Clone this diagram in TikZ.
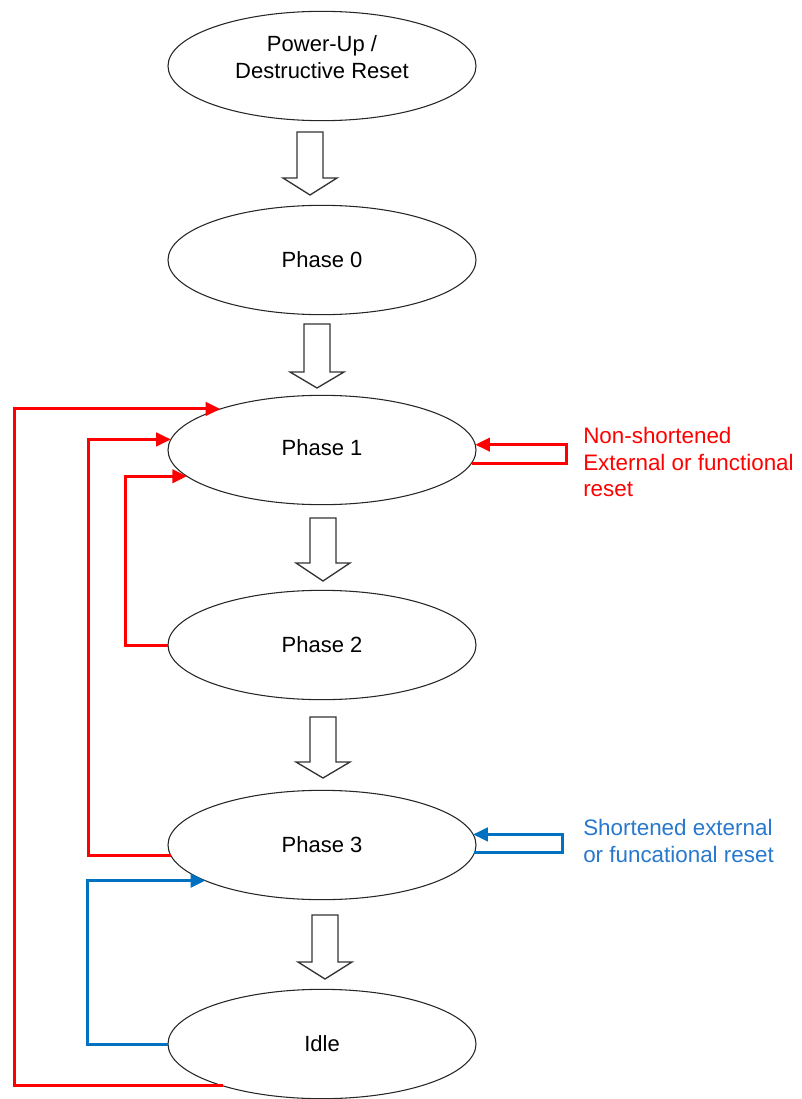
\documentclass[tikz,border=0pt]{standalone}
\usepackage{fontspec}
\setmainfont{Liberation Sans}
\usetikzlibrary{arrows.meta,shapes.geometric}
\definecolor{rl}{RGB}{255,0,0}
\definecolor{bl}{RGB}{0,112,192}
\definecolor{btext}{RGB}{40,120,205}
\newcommand\blockarr[4]{%
  \draw[barrow] (#1-13,#2) -- (#1+13,#2) -- (#1+13,#3) -- (#1+27,#3) -- (#1,#4) -- (#1-27,#3) -- (#1-13,#3) -- cycle;}
\begin{document}
\begin{tikzpicture}[x=0.75pt,y=-0.75pt,
  state/.style={ellipse,draw=black!85,line width=0.8pt,minimum width=231pt,minimum height=82pt,inner sep=0pt,outer sep=0pt,align=center,font=\fontsize{16.5}{20.25}\selectfont},
  redline/.style={draw=rl,line width=2.25pt},
  blueline/.style={draw=bl,line width=2.25pt},
  tip/.style={-{Triangle[length=11pt,width=10pt]}},
  barrow/.style={draw=black!80,line width=1pt,fill=white,line join=miter},
  lab/.style={anchor=west,inner sep=0pt,align=left,font=\fontsize{16.8}{20}\selectfont}]
\useasboundingbox (0,0) rectangle (802,1099);

\node[state] (pu) at (322,66) {};
\node[align=center,inner sep=0pt,font=\fontsize{16.5}{20.25}\selectfont] (putext) at (322,57) {Power-Up /\\Destructive Reset};
\node[state] (p0) at (322,260) {Phase 0};
\node[state] (p1) at (322,450) {\raisebox{3pt}{Phase 1}};
\node[state] (p2) at (322,645) {Phase 2};
\node[state] (p3) at (322,845) {Phase 3};
\node[state] (idle) at (322,1044) {Idle};

\blockarr{310}{132}{178}{195}
\blockarr{317}{324}{372}{388}
\blockarr{323}{518}{563}{581}
\blockarr{323}{717}{762}{778}
\blockarr{325}{915}{962}{979}

\coordinate (xo) at (14,0);
\coordinate (xm) at (88,0);
\coordinate (xi) at (125,0);
\coordinate (xb) at (87,0);
\coordinate (xr) at (566,0);
\coordinate (xbr) at (562,0);

\draw[redline,tip] (idle.203.7) -- (idle.203.7 -| xo) |- (p1.158.6);
\draw[redline,tip] (p3.184.7) -- (p3.184.7 -| xm) |- (p1.176.6);
\draw[redline,tip] (p2.west) -- (p2.west -| xi) |- (p1.191.2);
\draw[blueline,tip] (idle.west) -- (idle.west -| xb) |- (p3.197.3);
\draw[redline,tip] (p1.355.5) -- (p1.355.5 -| xr) |- (p1.2.6);
\draw[blueline,tip] (p3.357.4) -- (p3.357.4 -| xbr) |- (p3.4.1);

\node[lab,text=rl] (nsl) at (583,462) {Non-shortened\\External or functional\\reset};
\node[lab,text=btext] (sl) at (583,841) {Shortened external\\or funcational reset};
\end{tikzpicture}
\end{document}
